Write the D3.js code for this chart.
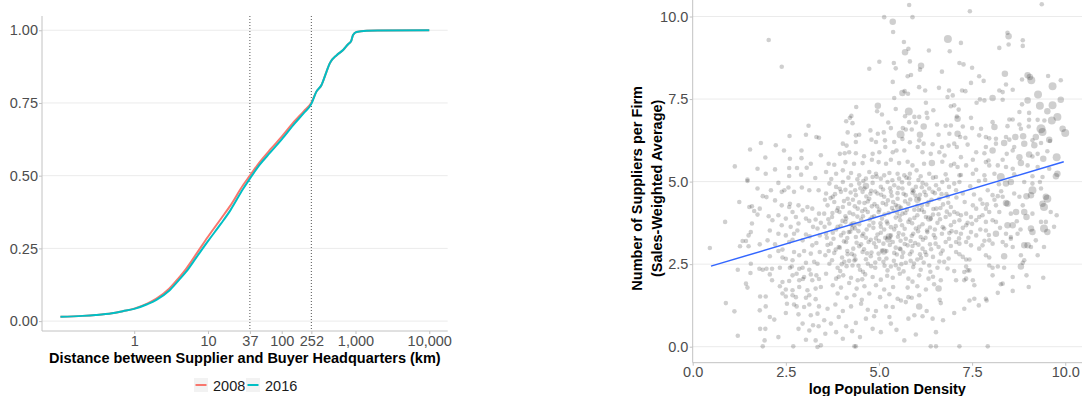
<!DOCTYPE html>
<html>
<head>
<meta charset="utf-8">
<script src="https://cdn.jsdelivr.net/npm/d3@7"></script>
<style>
  body { margin: 0; background: #fff; }
  svg { display: block; font-family: "Liberation Sans", Arial, sans-serif; }
</style>
</head>
<body>
<svg id="chart" width="1084" height="396"></svg>
<script>
// ---- Left panel: cumulative share of supplier links by distance ----
const distanceKm = [0.1, 0.2, 0.3, 0.5, 0.7, 1, 1.5, 2, 3, 4, 5, 7, 10, 15, 20, 30, 37, 50, 70, 100,
                    150, 200, 252, 295, 346, 405, 449, 560, 679, 794, 870, 927, 1032, 1409, 2000, 10000];
const share2008 = [0.015, 0.018, 0.021, 0.027, 0.034, 0.043, 0.060, 0.077, 0.112, 0.148, 0.178, 0.232,
                   0.290, 0.352, 0.396, 0.468, 0.500, 0.546, 0.590, 0.634, 0.688, 0.722, 0.751, 0.789,
                   0.812, 0.858, 0.887, 0.915, 0.932, 0.952, 0.962, 0.984, 0.994, 0.9986, 0.9995, 1.0];
const share2016 = [0.015, 0.018, 0.021, 0.027, 0.034, 0.042, 0.058, 0.073, 0.105, 0.140, 0.168, 0.220,
                   0.275, 0.335, 0.380, 0.455, 0.490, 0.537, 0.580, 0.625, 0.680, 0.716, 0.747, 0.789,
                   0.812, 0.858, 0.887, 0.915, 0.932, 0.952, 0.962, 0.984, 0.994, 0.9986, 0.9995, 1.0];
const years = ["2008", "2016"];
const yearColors = ["#F8766D", "#00BFC4"];
const distanceTicks = [1, 10, 37, 100, 252, 1000, 10000];
const distanceMarkers = [37, 252];
const shareTicks = [0, 0.25, 0.5, 0.75, 1];

// ---- Right panel: suppliers per firm vs. log population density ----
// [log population density, suppliers per firm, sales weight]
const municipalities = [
  [2.04,9.29,1],[2.39,8.48,1],[3.11,6.69,1],[2.60,6.38,1],[3.04,6.42,1],[3.32,6.35,1],[3.39,6.33,1],
  [1.83,6.17,1],[1.54,5.97,1],[2.23,6.10,1],[2.45,5.94,1],[2.92,5.94,1],[1.95,5.73,1],[2.61,5.69,1],
  [2.92,5.71,1],[3.44,5.80,1],[1.13,5.46,1],[1.74,5.39,1],[2.21,5.37,1],[2.59,5.41,1],[2.80,5.41,1],
  [3.06,5.42,1],[3.17,5.54,1],[1.96,5.24,1],[2.59,5.17,1],[2.91,5.21,1],[3.29,5.11,1],[1.47,5.06,1],

  [5.81,10.35,1],[5.14,9.98,1],[5.90,9.98,1],[5.37,9.84,2],[5.38,9.53,1],[6.85,9.32,3],[5.67,9.23,1],
  [5.70,8.92,2],[5.79,9.02,1],[6.34,8.97,1],[6.90,8.95,1],[5.01,8.63,1],[5.40,8.59,1],[5.83,8.64,1],
  [4.74,8.42,1],[5.45,8.43,1],[6.13,8.51,2],[6.10,8.39,1],[6.69,8.33,1],[5.77,8.19,1],[5.86,8.23,1],
  [5.37,8.02,1],[6.08,7.86,1],[6.24,7.76,1],[6.61,7.84,1],[6.88,7.76,1],[5.63,7.68,2],[5.69,7.74,1],
  [5.78,7.66,1],[5.41,7.53,1],[6.84,7.56,1],[6.26,7.39,1],[4.39,7.26,1],[4.97,7.30,2],[5.45,7.20,1],
  [5.80,7.12,3],[6.28,7.08,1],[6.46,7.16,1],[6.93,7.28,1],[4.26,6.99,1],[4.12,6.83,1],[4.22,6.93,1],
  [4.95,7.13,1],[5.08,7.03,1],[5.70,6.98,1],[5.95,6.96,1],[6.08,6.96,1],[6.30,6.93,1],[5.25,6.79,1],
  [5.81,6.80,1],[5.99,6.79,1],[6.56,6.73,1],[6.79,6.69,1],[4.29,6.77,1],[5.32,6.62,1],[5.64,6.62,1],
  [5.72,6.58,1],[5.88,6.58,1],[6.20,6.67,2],[6.93,6.70,1],[4.16,6.49,1],[4.38,6.40,1],[4.47,6.42,1],
  [4.77,6.55,1],[4.97,6.45,1],[5.13,6.49,1],[5.58,6.43,3],[6.10,6.42,2],[6.60,6.42,1],[6.89,6.45,1],
  [4.03,6.15,1],[4.13,6.09,1],[4.38,6.20,1],[4.80,6.27,1],[4.92,6.20,1],[5.16,6.25,1],[5.41,6.20,1],
  [5.63,6.29,1],[5.83,6.19,1],[6.08,6.25,1],[6.20,6.15,1],[6.44,6.13,1],[6.69,6.05,1],[6.87,6.09,1],
  [3.95,5.84,1],[4.08,5.86,1],[4.20,5.89,1],[4.38,5.86,1],[4.60,5.77,1],[4.83,5.84,1],[5.01,5.89,1],
  [5.17,6.05,1],[5.37,5.89,1],[5.47,5.94,1],[5.68,5.94,1],[6.04,6.05,1],[6.17,5.89,1],[6.39,5.84,1],
  [6.62,5.89,1],[6.76,5.79,1],[3.65,5.54,1],[3.80,5.51,1],[4.10,5.59,1],[4.33,5.54,1],[4.56,5.56,1],
  [4.81,5.66,1],[4.99,5.59,1],[5.19,5.54,1],[5.32,5.66,1],[5.54,5.56,1],[5.77,5.60,1],[5.90,5.49,1],
  [6.21,5.54,1],[6.42,5.56,2],[6.70,5.60,1],[6.93,5.49,1],[3.58,5.29,1],[3.85,5.24,1],[4.03,5.34,1],
  [4.25,5.26,1],[4.47,5.19,1],[4.74,5.29,1],[4.92,5.24,1],[5.14,5.19,1],[5.28,5.26,1],[5.50,5.24,1],
  [5.68,5.19,1],[5.83,5.24,1],[6.01,5.34,1],[6.12,5.16,1],[6.35,5.24,1],[6.53,5.14,1],[6.79,5.22,1],
  [4.65,5.09,1],[4.83,5.14,1],[5.05,5.09,1],[5.54,5.09,1],[5.81,5.10,1],

  [9.37,10.37,1],[7.44,10.16,1],[8.45,9.51,1],[8.48,9.40,2],[7.20,9.20,1],[8.86,9.28,1],[8.86,9.11,1],
  [8.23,9.05,1],[8.48,9.15,1],[7.16,8.59,1],[7.27,8.55,1],[7.50,8.45,1],[8.38,8.27,2],[8.99,8.22,2],
  [9.05,8.17,2],[9.09,8.07,3],[9.54,8.20,1],[9.88,8.07,1],[7.69,8.19,1],[7.81,8.05,1],[7.47,7.99,1],
  [8.41,7.94,1],[8.84,8.09,1],[9.66,7.89,3],[8.23,7.76,1],[8.32,7.71,1],[8.59,7.78,1],[7.23,7.76,1],
  [7.32,7.74,1],[6.98,7.61,1],[9.27,7.64,3],[7.71,7.49,1],[7.83,7.46,1],[8.05,7.53,2],[8.32,7.48,1],
  [8.99,7.46,2],[9.88,7.48,2],[7.62,7.39,1],[8.84,7.34,1],[9.32,7.30,3],[9.66,7.31,3],[7.02,7.31,1],
  [7.14,7.18,1],[8.77,7.11,1],[9.03,7.08,1],[9.52,7.13,2],[7.09,6.97,1],[7.11,6.90,2],[7.47,6.93,1],
  [8.05,6.80,1],[8.50,6.88,1],[8.59,6.88,1],[9.03,6.87,1],[9.26,6.87,1],[9.44,6.85,1],[9.64,6.85,3],
  [9.79,6.96,3],[7.25,6.67,1],[7.50,6.62,1],[7.74,6.60,1],[8.10,6.65,2],[8.45,6.68,1],[8.77,6.73,1],
  [8.81,6.60,1],[9.02,6.67,1],[9.35,6.60,4],[9.39,6.50,3],[9.93,6.60,2],[10.00,6.47,3],[7.11,6.45,2],
  [7.18,6.35,1],[7.32,6.33,1],[7.69,6.40,1],[7.87,6.35,1],[7.96,6.31,1],[8.14,6.30,1],[8.41,6.35,1],
  [8.50,6.27,1],[8.66,6.35,2],[8.87,6.37,2],[9.12,6.25,1],[9.21,6.35,2],[9.57,6.27,2],[7.02,6.15,1],
  [7.09,6.05,1],[7.38,6.12,1],[7.87,6.05,1],[8.14,6.15,1],[8.36,6.17,2],[8.63,6.05,1],[8.90,6.15,2],
  [9.17,6.10,2],[9.35,6.17,1],[9.59,6.23,1],[7.61,5.89,1],[7.83,5.86,1],[8.05,5.94,2],[8.43,5.84,1],
  [8.59,5.94,1],[9.03,5.82,2],[9.26,5.84,1],[9.52,5.92,1],[7.20,5.74,1],[7.52,5.66,1],[7.94,5.64,1],
  [8.32,5.66,1],[8.77,5.74,2],[9.12,5.76,1],[9.41,5.69,2],[9.77,5.74,3],[7.02,5.54,1],[7.11,5.44,1],
  [7.34,5.49,1],[7.61,5.36,1],[7.87,5.59,1],[7.96,5.49,1],[8.19,5.49,1],[8.41,5.44,1],[8.59,5.39,1],
  [8.81,5.56,2],[8.99,5.49,1],[9.26,5.44,1],[9.57,5.39,1],[9.79,5.24,2],[9.75,5.16,2],[7.16,5.19,1],
  [7.52,5.24,1],[7.83,5.19,1],[8.10,5.24,1],[8.27,5.14,3],[8.63,5.22,1],[9.12,5.16,1],[9.39,5.14,1],

  [1.47,5.02,1],[2.30,4.96,1],[1.74,4.79,1],[1.88,4.56,1],[1.98,4.53,1],[2.10,4.74,1],[2.39,4.69,1],
  [2.46,4.74,1],[2.57,4.82,1],[2.72,4.69,1],[2.93,4.82,1],[3.13,4.74,1],[3.38,4.74,1],[1.25,4.38,1],
  [1.52,4.23,1],[1.59,4.25,1],[1.65,4.11,1],[1.80,4.18,1],[1.74,4.00,1],[2.21,4.43,1],[2.39,4.28,1],
  [2.61,4.33,1],[2.59,4.23,1],[2.68,4.08,1],[2.84,4.28,1],[2.95,4.13,1],[3.08,4.23,1],[3.21,4.18,1],
  [3.39,4.03,1],[0.87,3.78,1],[2.04,3.95,1],[2.30,3.98,1],[2.50,3.88,1],[2.77,3.93,1],[3.04,3.88,1],
  [3.13,3.81,1],[3.30,3.85,1],[3.44,3.75,1],[1.59,3.73,1],[2.14,3.83,1],[2.39,3.68,1],[2.63,3.63,1],
  [2.84,3.73,1],[3.23,3.63,1],[3.35,3.58,1],[1.56,3.47,1],[1.50,3.37,1],[2.07,3.52,1],[2.30,3.42,1],
  [2.50,3.37,1],[2.72,3.42,1],[2.81,3.52,1],[3.04,3.40,1],[3.14,3.34,1],[3.41,3.37,1],[1.34,3.20,1],
  [1.43,3.20,1],[2.01,3.22,1],[2.21,3.10,1],[2.59,3.17,1],[2.68,3.24,1],[2.95,3.22,1],[3.21,3.07,1],
  [3.32,3.14,1],[1.27,3.04,1],[1.50,3.04,1],[1.80,3.10,1],[0.46,2.99,1],[2.30,2.90,1],[2.41,2.94,1],
  [2.72,2.87,1],[2.99,2.90,1],[3.17,2.82,1],[3.41,2.87,1],[2.07,2.74,1],[2.41,2.70,1],[2.50,2.66,1],
  [2.68,2.62,1],[2.86,2.77,1],[3.04,2.54,1],[3.26,2.57,1],[3.35,2.51,1],[1.56,2.51,1],[1.79,2.36,1],
  [1.88,2.33,1],[1.98,2.36,1],[2.13,2.36,1],[2.34,2.39,1],[2.61,2.39,1],[2.66,2.43,1],[2.86,2.36,1],
  [2.95,2.39,1],[3.13,2.33,1],[1.21,2.33,1],[1.55,2.23,1],[2.07,2.19,1],[2.68,2.16,1],[2.79,2.21,1],
  [2.99,2.11,1],[3.17,2.19,1],[3.32,2.16,1],[1.43,1.91,1],[1.47,1.79,1],[2.13,2.01,1],[2.41,1.96,1],
  [2.59,1.99,1],[2.86,2.01,1],[2.96,2.05,1],[3.21,2.01,1],[3.39,2.05,1],[2.34,1.83,1],[2.50,1.73,1],
  [2.68,1.71,1],[2.86,1.81,1],[3.08,1.71,1],[3.30,1.76,1],[3.44,1.81,1],[2.41,1.61,1],[2.50,1.52,1],
  [2.68,1.56,1],[2.77,1.50,1],[3.04,1.48,1],[3.13,1.56,1],[3.30,1.44,1],[1.81,1.52,1],[1.96,1.52,1],
  [0.89,1.32,1],[2.53,1.30,1],[2.72,1.28,1],[2.79,1.22,1],[2.99,1.20,1],[3.13,1.28,1],[3.39,1.22,1],
  [1.80,1.10,1],[1.96,1.22,1],[1.12,1.07,1],[2.50,1.02,1],[2.84,0.98,1],[3.17,0.95,1],[3.35,1.00,1],
  [2.19,0.82,1],[2.07,0.90,1],[2.95,0.70,1],[3.23,0.65,1],[3.38,0.62,1],[1.81,0.54,1],[1.95,0.54,1],
  [2.84,0.54,1],[3.13,0.49,1],[1.21,0.33,1],[2.30,0.29,1],[1.93,0.19,1],[3.04,0.21,1],[3.30,0.19,1],
  [1.88,0.01,1],[2.70,0.01,1],[3.35,-0.01,1],[3.44,0.04,1],

  [3.67,4.94,1],[3.85,4.84,1],[4.03,4.99,1],[4.25,4.89,1],[4.47,4.94,1],[4.61,4.79,1],[4.83,4.96,1],
  [5.05,4.84,1],[5.23,4.99,1],[5.41,4.89,1],[5.63,4.79,1],[5.81,4.94,1],[5.99,4.84,1],[6.17,4.96,1],
  [6.35,4.79,1],[6.53,4.89,1],[6.70,4.99,1],[6.88,4.84,1],[3.58,4.64,1],[3.76,4.54,1],[3.98,4.69,1],
  [4.16,4.48,1],[4.38,4.59,1],[4.56,4.69,1],[4.74,4.48,1],[4.96,4.64,1],[5.14,4.54,1],[5.32,4.69,1],
  [5.50,4.48,1],[5.72,4.59,1],[5.90,4.66,1],[6.08,4.48,1],[6.26,4.59,1],[6.44,4.69,1],[6.62,4.48,1],
  [6.81,4.62,1],[3.62,4.28,1],[3.80,4.38,1],[4.03,4.23,1],[4.20,4.33,1],[4.43,4.18,1],[4.61,4.35,1],
  [4.81,4.25,1],[5.01,4.15,1],[5.19,4.31,1],[5.38,4.38,1],[5.59,4.21,1],[5.79,4.33,1],[5.95,4.15,1],
  [6.15,4.28,1],[6.33,4.38,1],[6.54,4.18,1],[6.72,4.31,1],[6.93,4.23,1],[3.53,4.03,1],[3.74,3.93,1],
  [3.94,4.08,1],[4.12,3.88,1],[4.31,4.01,1],[4.52,3.85,1],[4.70,4.08,1],[4.87,3.95,1],[5.08,3.88,1],
  [5.26,4.05,1],[5.45,3.91,1],[5.63,4.03,1],[5.83,3.85,1],[6.03,3.98,1],[6.21,4.08,1],[6.39,3.88,1],
  [6.60,4.01,1],[6.79,3.93,1],[3.67,3.73,1],[3.89,3.63,1],[4.10,3.78,1],[4.28,3.58,1],[4.47,3.71,1],
  [4.67,3.55,1],[4.85,3.75,1],[5.05,3.63,1],[5.23,3.73,1],[5.41,3.55,1],[5.62,3.68,1],[5.79,3.78,1],
  [5.99,3.58,1],[6.17,3.71,1],[6.37,3.61,1],[6.57,3.75,1],[6.75,3.58,1],[6.93,3.68,1],[3.58,3.42,1],
  [3.78,3.27,1],[3.98,3.37,1],[4.19,3.47,1],[4.38,3.32,1],[4.58,3.42,1],[4.78,3.24,1],[4.96,3.40,1],
  [5.17,3.30,1],[5.32,3.37,1],[5.53,3.44,1],[5.72,3.27,1],[5.92,3.42,1],[6.12,3.32,1],[6.30,3.47,1],
  [6.51,3.30,1],[6.69,3.42,1],[6.88,3.27,1],[3.71,3.12,1],[3.92,3.02,1],[4.12,3.17,1],[4.31,2.97,1],
  [4.52,3.10,1],[4.72,3.17,1],[4.92,3.02,1],[5.12,3.12,1],[5.37,3.17,1],[5.56,2.97,1],[5.77,3.07,1],
  [5.97,3.14,1],[6.17,2.97,1],[6.37,3.10,1],[6.60,3.02,1],[6.79,3.17,1],[3.56,2.77,1],[3.80,2.84,1],
  [4.01,2.70,1],[4.16,2.80,1],[4.37,2.64,1],[4.56,2.87,1],[4.78,2.74,1],[4.99,2.82,1],[5.20,2.67,1],
  [5.41,2.84,1],[5.62,2.72,1],[5.83,2.80,1],[6.03,2.64,1],[6.24,2.87,1],[6.45,2.72,1],[6.66,2.82,1],
  [6.87,2.67,1],[3.67,2.51,1],[3.89,2.39,1],[4.07,2.57,1],[4.29,2.46,1],[4.49,2.33,1],[4.70,2.51,1],
  [4.90,2.39,1],[5.12,2.57,1],[5.32,2.43,1],[5.53,2.36,1],[5.72,2.54,1],[5.92,2.41,1],[6.12,2.33,1],
  [6.35,2.46,1],[6.57,2.39,1],[6.75,2.57,1],[3.58,2.21,1],[3.85,2.06,1],[4.04,2.16,1],[4.25,2.09,1],
  [4.43,2.01,1],[4.63,2.19,1],[4.83,2.11,1],[5.05,2.03,1],[5.37,2.09,1],[5.56,2.21,1],[5.79,2.06,1],
  [6.08,2.16,1],[6.33,2.06,1],[6.60,1.76,2],[6.66,2.01,1],[3.76,1.86,1],[3.98,1.79,1],[4.20,1.93,1],
  [4.40,1.76,1],[4.61,1.83,1],[4.92,1.86,1],[5.14,1.73,1],[5.38,1.81,1],[5.77,1.79,1],[6.03,1.83,1],
  [6.26,1.73,1],[6.48,1.89,1],[3.89,1.61,1],[4.13,1.48,1],[4.34,1.56,1],[4.54,1.42,1],[4.74,1.61,1],
  [5.03,1.50,1],[5.28,1.59,1],[5.50,1.45,1],[5.79,1.50,1],[5.88,1.48,1],[6.08,1.56,1],[6.63,1.42,1],
  [3.62,1.15,1],[3.83,1.28,1],[4.03,1.08,1],[4.25,1.22,1],[4.52,1.30,1],[4.70,1.12,1],[4.92,1.08,1],
  [5.19,1.22,1],[5.37,1.20,1],[5.59,1.40,1],[5.72,1.35,1],[6.08,1.22,2],[6.28,1.08,1],[6.66,1.32,1],
  [3.53,0.80,1],[3.71,0.70,1],[3.92,0.90,1],[4.12,0.62,1],[4.38,0.72,1],[4.65,0.85,1],[4.87,0.92,1],
  [5.28,0.90,1],[5.32,0.70,1],[5.79,0.85,1],[5.95,0.95,1],[6.17,0.92,1],[6.44,0.85,1],[6.72,0.80,1],
  [3.56,0.39,1],[3.85,0.44,1],[4.28,0.47,1],[4.49,0.29,1],[4.83,0.54,1],[5.05,0.44,1],[5.47,0.51,1],
  [5.99,0.37,1],[6.53,0.44,1],[4.34,0.01,1],[4.38,0.01,1],[6.39,0.01,1],[6.53,0.01,1],[4.03,0.24,1],
  [5.68,0.19,1],

  [4.10,4.75,1],[4.30,4.45,1],[4.50,4.80,1],[4.70,4.40,1],[4.90,4.70,1],[5.10,4.35,1],[5.30,4.80,1],
  [5.50,4.65,1],[5.70,4.40,1],[5.90,4.75,1],[6.10,4.60,1],[6.30,4.30,1],[6.50,4.65,1],[3.90,4.20,1],
  [4.10,3.95,1],[4.35,4.25,1],[4.55,4.10,1],[4.75,3.85,1],[4.95,4.25,1],[5.15,4.00,1],[5.35,4.20,1],
  [5.55,3.95,1],[5.75,4.15,1],[5.95,3.90,1],[6.15,4.15,1],[6.45,4.00,1],[6.65,4.20,1],[3.85,3.55,1],
  [4.05,3.45,1],[4.25,3.70,1],[4.45,3.50,1],[4.65,3.30,1],[4.85,3.60,1],[5.05,3.45,1],[5.25,3.25,2],
  [5.45,3.65,1],[5.65,3.40,1],[5.85,3.20,1],[6.05,3.50,1],[6.25,3.30,1],[6.50,3.55,1],[3.95,3.00,1],
  [4.15,2.90,1],[4.40,3.15,1],[4.60,2.95,1],[4.80,2.85,1],[5.00,3.20,1],[5.20,2.90,1],[5.45,3.00,1],
  [5.65,2.85,1],[5.90,3.05,1],[6.10,2.80,1],[6.40,2.95,1],[4.00,2.50,1],[4.20,2.60,1],[4.45,2.45,1],
  [4.65,2.65,1],[4.90,2.55,1],[5.15,2.45,1],[5.40,2.60,1],[5.60,2.50,1],[5.85,2.60,1],[6.20,2.55,1],
  [3.70,4.50,1],[3.75,4.05,1],[3.60,3.30,1],[3.65,2.90,1],[6.85,4.55,1],[6.90,4.00,1],[6.95,3.50,1],

  [3.72,5.08,1],[3.95,4.78,1],[4.18,5.12,1],[4.36,4.74,1],[4.58,5.02,1],[4.79,4.72,1],[4.94,5.15,1],
  [5.11,4.76,1],[5.36,5.04,1],[5.52,4.81,1],[5.74,5.12,1],[5.93,4.71,1],[6.06,5.05,1],[6.27,4.91,1],
  [6.45,5.12,1],[6.61,4.77,1],[6.83,5.06,1],[4.42,5.07,1],[5.62,4.98,1],[6.15,4.83,1],
  [3.55,4.45,1],[3.82,4.62,1],[4.06,4.41,1],[4.24,4.67,1],[4.47,4.37,1],[4.66,4.55,1],[4.88,4.32,1],
  [5.06,4.60,1],[5.24,4.43,1],[5.45,4.29,1],[5.66,4.63,1],[5.84,4.46,1],[6.03,4.27,1],[6.22,4.69,1],
  [6.41,4.45,1],[6.68,4.62,1],[6.86,4.36,1],[4.77,4.63,1],[5.34,4.57,1],[5.98,4.58,1],
  [3.64,3.86,1],[3.87,4.12,1],[4.02,3.81,1],[4.21,4.06,1],[4.42,3.94,1],[4.63,4.16,1],[4.81,3.92,1],
  [4.99,4.08,1],[5.21,3.79,1],[5.39,4.11,1],[5.57,3.83,1],[5.71,4.05,1],[5.89,3.74,1],[6.07,4.14,1],
  [6.26,3.93,1],[6.46,4.17,1],[6.64,3.86,1],[6.82,4.09,1],[4.57,3.95,1],[5.49,4.06,1],[5.04,3.74,1],
  [3.54,3.63,1],[3.76,3.45,1],[3.97,3.66,1],[4.15,3.29,1],[4.36,3.58,1],[4.55,3.36,1],[4.74,3.67,1],
  [4.92,3.28,1],[5.14,3.55,1],[5.32,3.62,1],[5.51,3.33,1],[5.69,3.57,1],[5.88,3.36,1],[6.08,3.63,1],
  [6.29,3.52,1],[6.47,3.38,1],[6.71,3.62,1],[6.89,3.44,1],[4.23,3.48,1],[5.58,3.21,1],[6.18,3.24,1],
  [3.62,3.08,1],[3.84,2.94,1],[4.06,3.19,1],[4.27,2.81,1],[4.47,3.04,1],[4.68,2.83,1],[4.87,3.13,1],
  [5.08,2.91,1],[5.29,3.08,1],[5.48,2.79,1],[5.69,3.11,1],[5.88,2.88,1],[6.06,3.09,1],[6.27,2.78,1],
  [6.52,3.12,1],[6.71,2.91,1],[6.93,3.05,1],[4.34,2.76,1],[5.58,2.95,1],
  [3.74,2.62,1],[3.96,2.29,1],[4.13,2.44,1],[4.34,2.61,1],[4.57,2.27,1],[4.79,2.44,1],[5.01,2.66,1],
  [5.23,2.31,1],[5.45,2.47,1],[5.66,2.28,1],[5.94,2.52,1],[6.13,2.69,1],[6.38,2.27,1],[6.62,2.58,1],
  [6.84,2.37,1],[3.92,2.12,1],[4.55,2.04,1],[5.22,2.15,1],[5.90,1.97,1],[6.45,2.12,1],
  [4.32,3.71,2],[5.27,3.34,2],[5.52,4.22,2],[4.65,4.87,2],[6.03,4.45,2],[5.13,2.88,2],[6.35,3.88,2],

  [7.02,4.94,1],[7.16,4.99,1],[8.41,4.94,2],[8.54,4.99,2],[8.90,4.99,1],[9.12,4.94,1],[9.32,4.99,1],
  [7.92,4.74,1],[8.05,4.59,1],[8.19,4.56,1],[8.32,4.54,1],[8.41,4.35,2],[8.45,4.33,2],[8.63,4.64,1],
  [8.77,4.54,1],[8.96,4.56,2],[9.08,4.59,2],[9.12,4.74,3],[9.35,4.79,1],[9.48,4.54,2],[9.52,4.48,3],
  [9.39,4.33,2],[9.43,4.23,3],[9.61,4.08,1],[7.07,4.74,1],[7.25,4.64,1],[7.52,4.28,1],[7.61,4.18,1],
  [7.02,4.08,1],[7.11,4.03,1],[7.20,3.98,1],[7.34,4.03,1],[7.47,3.93,1],[7.78,4.33,1],[7.87,4.18,1],
  [7.96,4.08,1],[8.14,4.28,1],[8.23,4.08,1],[8.54,4.03,1],[8.68,4.08,2],[8.86,4.28,1],[8.90,4.08,2],
  [8.96,3.93,2],[9.12,4.03,1],[9.35,3.78,1],[9.48,3.78,1],[9.77,3.98,1],[7.02,3.78,1],[7.16,3.83,1],
  [7.34,3.68,1],[7.38,3.75,1],[7.61,3.83,1],[7.69,3.93,1],[7.78,3.98,1],[7.87,3.78,1],[8.05,3.83,1],
  [8.14,3.78,1],[8.45,3.68,2],[8.59,3.68,2],[9.08,3.58,2],[9.12,3.47,2],[9.43,3.58,3],[9.52,3.47,2],
  [9.70,3.63,1],[7.07,3.47,1],[7.20,3.42,1],[7.47,3.47,1],[7.61,3.37,1],[7.87,3.52,1],[8.14,3.42,2],
  [8.41,3.42,1],[8.54,3.32,1],[8.72,3.42,1],[7.07,3.17,1],[7.16,3.12,1],[7.34,3.17,1],[7.47,3.07,1],
  [7.69,2.97,1],[7.78,3.07,1],[7.96,3.22,1],[8.05,3.12,1],[8.32,3.17,1],[8.41,3.07,1],[8.54,3.27,1],
  [8.59,3.02,1],[8.90,3.07,2],[8.99,3.07,2],[9.08,3.02,1],[9.21,3.22,1],[9.43,3.02,1],[7.07,2.87,1],
  [7.16,2.80,1],[7.25,2.72,1],[7.34,2.64,1],[7.43,2.64,1],[7.87,2.77,1],[7.96,2.70,1],[8.36,2.74,2],
  [8.81,2.77,1],[8.90,2.62,1],[8.86,2.54,1],[9.26,2.77,1],[7.34,2.43,1],[7.29,2.26,1],[7.96,2.46,1],
  [8.05,2.39,1],[8.19,2.43,1],[8.36,2.39,1],[8.81,2.43,2],[7.02,2.29,1],[7.07,2.01,1],[7.38,2.31,1],
  [7.43,2.31,1],[7.52,2.01,1],[8.05,2.16,1],[8.59,2.11,1],[8.96,2.16,1],[9.41,2.09,1],[7.34,2.06,1],
  [7.29,2.01,1],[8.32,1.91,1],[8.27,1.89,1],[9.02,1.81,1],[8.59,1.69,1],[8.19,1.63,1],[7.56,1.86,1],
  [7.43,1.40,1],[7.56,1.45,1],[7.87,1.45,1],[7.89,1.40,1],[7.68,1.25,1],[7.29,1.15,1],[7.02,1.02,1],
  [7.16,0.01,1],[7.92,0.01,1],
  [7.08,4.52,1],[7.30,4.38,1],[7.55,4.61,1],[7.72,4.46,1],[7.90,4.31,1],[8.10,4.45,1],[8.28,4.71,1],
  [7.45,4.86,1],[7.68,5.02,1],[7.20,5.20,1],[7.85,5.05,1],[8.22,4.92,1],[7.25,3.60,1],[7.50,3.72,1],
  [7.72,3.55,1],[7.95,3.38,1],[8.25,3.60,1],[7.15,3.28,1],[7.40,3.30,1],[7.83,3.21,1],[8.70,3.80,1],
  [8.80,3.55,1]
];
// least-squares fit, endpoints at the observed density range
const fitDensity = [0.49, 9.96];
const fitSuppliers = [2.44, 5.60];
const densityTicks = [0, 2.5, 5, 7.5, 10];
const supplierTicks = [0, 2.5, 5, 7.5, 10];

const svg = d3.select("#chart");
const gridColor = "#ebebeb";
const axisColor = "#c2c2c2";
const tickText = "#4d4d4d";
const titleSize = "14.5px";
const tickSize = "14.5px";

// ================= Left panel =================
const L = { left: 42, right: 447.7, top: 16, bottom: 331 };
const xDist = d3.scaleLog().domain([Math.pow(10, -1.25), Math.pow(10, 4.25)]).range([L.left, L.right]);
const yShare = d3.scaleLinear().domain([-0.034, 1.049]).range([L.bottom, L.top]);

const left = svg.append("g");
left.selectAll("line.grid").data(shareTicks).join("line")
  .attr("x1", L.left).attr("x2", L.right)
  .attr("y1", d => yShare(d)).attr("y2", d => yShare(d))
  .attr("stroke", gridColor).attr("stroke-width", 1);

left.selectAll("line.marker").data(distanceMarkers).join("line")
  .attr("x1", d => xDist(d)).attr("x2", d => xDist(d))
  .attr("y1", L.top).attr("y2", L.bottom)
  .attr("stroke", "#555").attr("stroke-width", 1).attr("stroke-dasharray", "1,2");

const shareLine = d3.line().curve(d3.curveMonotoneX)
  .x((d, i) => xDist(distanceKm[i])).y(d => yShare(d));
[share2008, share2016].forEach((series, k) => {
  left.append("path").datum(series)
    .attr("d", shareLine).attr("fill", "none")
    .attr("stroke", yearColors[k]).attr("stroke-width", 2);
});

const xAxisL = left.append("g").attr("transform", `translate(0,${L.bottom})`)
  .call(d3.axisBottom(xDist).tickValues(distanceTicks).tickFormat(d3.format(","))
        .tickSize(3).tickSizeOuter(0).tickPadding(2));
const yAxisL = left.append("g").attr("transform", `translate(${L.left},0)`)
  .call(d3.axisLeft(yShare).tickValues(shareTicks).tickFormat(d3.format(".2f"))
        .tickSize(3).tickSizeOuter(0).tickPadding(1));
[xAxisL, yAxisL].forEach(g => {
  g.select(".domain").attr("stroke", axisColor);
  g.selectAll(".tick line").attr("stroke", axisColor);
  g.selectAll(".tick text").attr("fill", tickText).style("font-size", tickSize)
    .style("font-family", '"Liberation Sans", Arial, sans-serif');
});
yAxisL.select(".domain").attr("d", `M0,${L.top}V${L.bottom}`);
xAxisL.select(".domain").attr("d", `M${L.left},0H${L.right}`);

left.append("text").attr("x", (L.left + L.right) / 2).attr("y", 362.5)
  .attr("text-anchor", "middle").style("font-weight", "bold").style("font-size", titleSize)
  .text("Distance between Supplier and Buyer Headquarters (km)");

// legend
const legend = left.append("g").attr("transform", "translate(194,378)");
const keyX = [0, 52];
years.forEach((yr, k) => {
  const g = legend.append("g").attr("transform", `translate(${keyX[k]},0)`);
  g.append("rect").attr("width", 14).attr("height", 14).attr("fill", "#f2f2f2");
  g.append("line").attr("x1", 1.5).attr("x2", 12.5).attr("y1", 7).attr("y2", 7)
    .attr("stroke", yearColors[k]).attr("stroke-width", 2);
  g.append("text").attr("x", 19).attr("y", 12.5).style("font-size", "14.5px").attr("fill", "#1a1a1a").text(yr);
});

// ================= Right panel =================
const R = { left: 692.7, right: 1082, top: 0, bottom: 363.2 };
const xDen = d3.scaleLinear().domain([0, 10.45]).range([R.left, R.right]);
const ySup = d3.scaleLinear().domain([-0.5, 10.5]).range([R.bottom, R.top]);
const rW = d3.scaleSqrt().domain([0, 4]).range([0, 4.6]);

const right = svg.append("g");
svg.append("clipPath").attr("id", "panelR").append("rect")
  .attr("x", R.left).attr("y", R.top).attr("width", R.right - R.left).attr("height", R.bottom - R.top);

right.selectAll("line.hgrid").data(supplierTicks).join("line")
  .attr("x1", R.left).attr("x2", R.right)
  .attr("y1", d => ySup(d)).attr("y2", d => ySup(d))
  .attr("stroke", gridColor).attr("stroke-width", 1);

right.append("g").attr("clip-path", "url(#panelR)")
  .selectAll("circle").data(municipalities).join("circle")
  .attr("cx", d => xDen(d[0])).attr("cy", d => ySup(d[1])).attr("r", d => rW(d[2]))
  .attr("fill", "#000").attr("fill-opacity", 0.19);

right.append("path").datum(fitDensity)
  .attr("d", d3.line().x(d => xDen(d)).y((d, i) => ySup(fitSuppliers[i])))
  .attr("fill", "none").attr("stroke", "#3366FF").attr("stroke-width", 1.5);

const xAxisR = right.append("g").attr("transform", `translate(0,362.7)`)
  .call(d3.axisBottom(xDen).tickValues(densityTicks).tickFormat(d3.format(".1f"))
        .tickSize(3).tickSizeOuter(0).tickPadding(1.5));
const yAxisR = right.append("g").attr("transform", `translate(${R.left},0)`)
  .call(d3.axisLeft(ySup).tickValues(supplierTicks).tickFormat(d3.format(".1f"))
        .tickSize(3).tickSizeOuter(0).tickPadding(1.4));
[xAxisR, yAxisR].forEach(g => {
  g.select(".domain").attr("stroke", axisColor);
  g.selectAll(".tick line").attr("stroke", axisColor);
  g.selectAll(".tick text").attr("fill", tickText).style("font-size", tickSize)
    .style("font-family", '"Liberation Sans", Arial, sans-serif');
});
yAxisR.select(".domain").attr("d", `M0,${R.top}V362.7`);
xAxisR.select(".domain").attr("d", `M${R.left},0H${R.right}`);

right.append("text").attr("x", (R.left + R.right) / 2).attr("y", 393.5)
  .attr("text-anchor", "middle").style("font-weight", "bold").style("font-size", titleSize)
  .text("log Population Density");

const yTitle = right.append("text").attr("transform", `translate(0,${(R.top + 362.7) / 2 + 7}) rotate(-90)`)
  .attr("text-anchor", "middle").style("font-weight", "bold").style("font-size", titleSize);
yTitle.append("tspan").attr("x", 0).attr("y", 641.5).text("Number of Suppliers per Firm");
yTitle.append("tspan").attr("x", 0).attr("y", 661.5).text("(Sales-Weighted Average)");
</script>
</body>
</html>
